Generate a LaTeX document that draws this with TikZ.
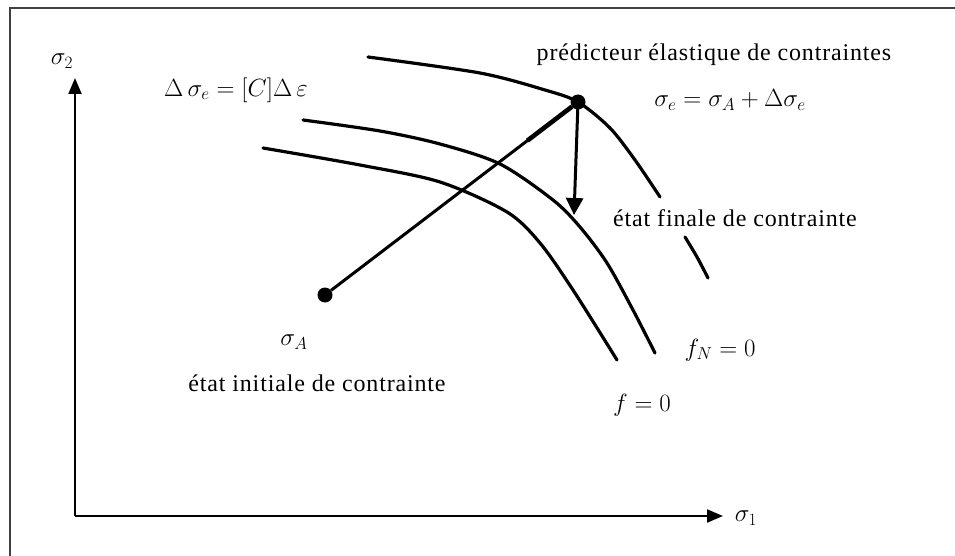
\documentclass[tikz,border=0pt]{standalone}
\usepackage{fontspec}
\setmainfont{Liberation Serif}
\usetikzlibrary{arrows.meta,calc}
\tikzset{
  curve/.style={line width=3.2pt, line cap=round},
  axis/.style={line width=2pt, -{Triangle[length=16pt,width=13pt]}},
  dot/.style={circle, fill=black, inner sep=0pt, minimum size=15pt},
  lbl/.style={inner sep=0pt, font=\fontsize{24}{28}\selectfont\addfontfeature{LetterSpace=3.5}},
  mlbl/.style={inner sep=0pt, font=\fontsize{24}{28}\selectfont},
}
\begin{document}
\begin{tikzpicture}[x=1pt,y=-1pt]
\useasboundingbox (0,0) rectangle (955,556);
% frame
\draw[line width=2.2pt, black!75] (10,556) -- (10,8) -- (956,8);
% axes
\coordinate (O) at (75,516);
\coordinate (Y) at (75,78);
\coordinate (X) at (723,516);
\draw[axis] (O) -- (Y);
\draw[axis] (O) -- (X);
\node[mlbl] (s2) at (62,61) {$\sigma_2$};
\node[mlbl] (s1) at (746,518) {$\sigma_1$};
% curves
\draw[curve] plot[smooth] coordinates {(368,57) (480,73) (545,90) (578,102) (610,128) (635,160) (660,197)};
\draw[curve] plot[smooth] coordinates {(685,237) (697,257) (708,278)};
\draw[curve] plot[smooth] coordinates {(303,120) (380,131) (440,144) (500,164) (553,200) (580,227) (607,263) (633,310) (655,353)};
\draw[curve] plot[smooth] coordinates {(263,148) (360,165) (440,182) (507,212) (540,243) (573,290) (617,360)};
% points
\node[dot] (A) at (325,295) {};
\node[dot] (E) at (578,102) {};
\coordinate (F) at (574,215);
\draw[line width=3pt] (A) -- (E);
\draw[line width=4.6pt] ($(A)!0.8!(E)$) -- (E);
\draw[line width=3pt, -{Triangle[length=17pt,width=17pt]}] (E.center) -- (F);
% labels
\node[mlbl] (deq) at (236,90) {$\Delta\,\sigma_e=[C]\Delta\,\varepsilon$};
\node[lbl] (pred) at (714,55) {prédicteur élastique de contraintes};
\node[mlbl, font=\fontsize{23}{27}\selectfont] (seq) at (730,100) {$\sigma_e=\sigma_A+\Delta\sigma_e$};
\node[lbl] (fin) at (735,218) {état finale de contrainte};
\node[mlbl] (sA) at (294,342) {$\sigma_A$};
\node[lbl] (ini) at (317,383) {état initiale de contrainte};
\node[mlbl] (fN) at (720,350) {$f_N=0$};
\node[mlbl] (f0) at (642,405) {$f=0$};
\end{tikzpicture}
\end{document}
